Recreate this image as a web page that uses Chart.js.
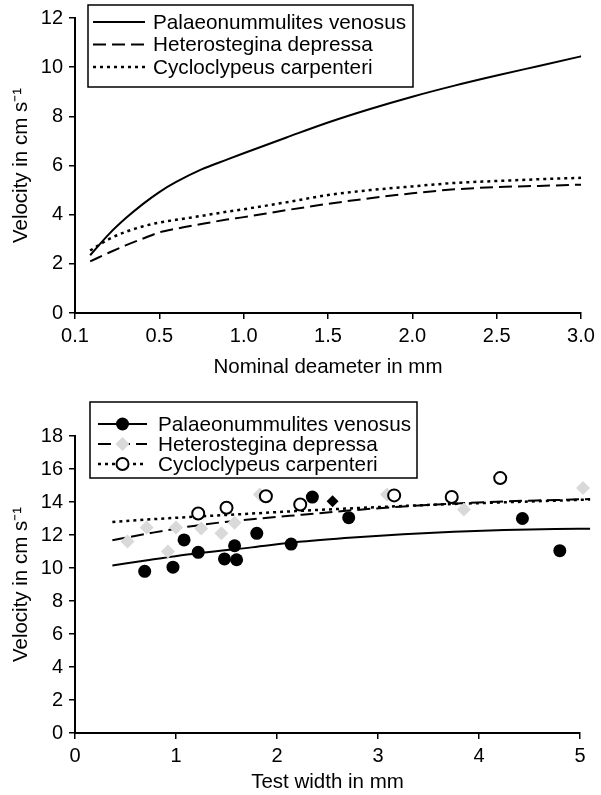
<!DOCTYPE html>
<html>
<head>
<meta charset="utf-8">
<script src="https://cdn.jsdelivr.net/npm/chart.js@4/dist/chart.umd.min.js"></script>
<style>
  html, body { margin: 0; padding: 0; background: #fff; }
  #wrap { position: relative; width: 601px; height: 795px; }
  #topBox { position: absolute; left: 0; top: 0; width: 601px; height: 385px; }
  #bottomBox { position: absolute; left: 0; top: 390px; width: 601px; height: 405px; }
</style>
</head>
<body>
<div id="wrap">
  <div id="topBox"><canvas id="topChart"></canvas></div>
  <div id="bottomBox"><canvas id="bottomChart"></canvas></div>
</div>
<script>
// Top panel: settling velocity vs nominal diameter
const speciesNames = ['Palaeonummulites venosus', 'Heterostegina depressa', 'Cycloclypeus carpenteri'];
const diameterMm = [0.09, 0.2, 0.3, 0.4, 0.5, 0.6, 0.75, 0.9, 1.0, 1.25, 1.5, 1.75, 2.0, 2.25, 2.5, 2.75, 3.0];
const palaeoTop = [2.35, 3.2, 3.85, 4.42, 4.92, 5.33, 5.84, 6.24, 6.5, 7.13, 7.75, 8.3, 8.8, 9.25, 9.66, 10.05, 10.44];
const heteroTop = [2.1, 2.45, 2.75, 3.02, 3.28, 3.43, 3.62, 3.8, 3.9, 4.18, 4.44, 4.67, 4.87, 5.03, 5.12, 5.17, 5.22];
const cycloTop = [2.54, 3.0, 3.3, 3.52, 3.68, 3.79, 3.95, 4.12, 4.22, 4.5, 4.8, 5.0, 5.15, 5.29, 5.37, 5.44, 5.5];
const topXTicks = ['0.1', '0.5', '1.0', '1.5', '2.0', '2.5', '3.0'];

// Bottom panel: velocity vs test width (measured points + fitted curves)
const palaeoWidth = [0.69, 0.97, 1.08, 1.22, 1.48, 1.58, 1.60, 1.80, 2.14, 2.35, 2.71, 4.43, 4.80];
const palaeoVel = [9.8, 10.05, 11.7, 10.95, 10.55, 11.35, 10.5, 12.1, 11.45, 14.3, 13.05, 13.0, 11.05];
const heteroWidth = [0.52, 0.71, 0.92, 1.0, 1.25, 1.45, 1.58, 1.83, 3.09, 3.85, 5.03];
const heteroVel = [11.6, 12.45, 11.0, 12.45, 12.4, 12.1, 12.75, 14.45, 14.45, 13.55, 14.85];
const heteroMarkedWidth = [2.55];
const heteroMarkedVel = [14.05];
const cycloWidth = [1.22, 1.50, 1.89, 2.23, 3.16, 3.73, 4.21];
const cycloVel = [13.3, 13.65, 14.35, 13.85, 14.4, 14.3, 15.45];
const fitWidth = [0.37, 0.75, 1.25, 1.75, 2.25, 2.75, 3.25, 3.75, 4.25, 4.75, 5.1];
const palaeoFit = [10.15, 10.5, 10.92, 11.25, 11.6, 11.85, 12.05, 12.2, 12.3, 12.36, 12.38];
const heteroFit = [11.68, 12.12, 12.62, 12.95, 13.23, 13.5, 13.73, 13.9, 14.04, 14.12, 14.18];
const cycloFit = [12.79, 12.95, 13.13, 13.3, 13.47, 13.62, 13.76, 13.88, 13.98, 14.08, 14.15];

const FONT = "'Liberation Sans', Arial, sans-serif";
const toXY = (xs, ys) => xs.map((x, i) => ({ x: x, y: ys[i] }));

const SOLID = [];
const DASHED = [13, 6];
const DOTTED = [3, 4];

// Legend drawn inside the plot with a box, like the original figure
const boxLegend = {
  id: 'boxLegend',
  afterDraw(chart, args, opts) {
    const ctx = chart.ctx;
    ctx.save();
    ctx.fillStyle = '#fff';
    ctx.fillRect(opts.x, opts.y, opts.w, opts.h);
    ctx.strokeStyle = '#000';
    ctx.lineWidth = 1.5;
    ctx.setLineDash([]);
    ctx.strokeRect(opts.x, opts.y, opts.w, opts.h);
    opts.items.forEach((item, i) => {
      const line = chart.data.datasets[item.line];
      const y = opts.y + opts.first + i * opts.gap;
      ctx.beginPath();
      ctx.setLineDash(line.borderDash || []);
      ctx.lineWidth = line.borderWidth;
      ctx.strokeStyle = '#000';
      ctx.moveTo(opts.x0, y);
      ctx.lineTo(opts.x1, y);
      ctx.stroke();
      ctx.setLineDash([]);
      if (item.marker != null) {
        const m = chart.data.datasets[item.marker];
        ctx.fillStyle = m.pointBackgroundColor;
        ctx.strokeStyle = m.pointBorderColor;
        ctx.lineWidth = m.pointBorderWidth;
        Chart.helpers.drawPoint(ctx, {
          pointStyle: m.pointStyle, radius: m.pointRadius, rotation: 0, borderWidth: m.pointBorderWidth
        }, (opts.x0 + opts.x1) / 2, y);
      }
      ctx.fillStyle = '#000';
      ctx.font = opts.fontSize + 'px ' + FONT;
      ctx.textBaseline = 'middle';
      ctx.textAlign = 'left';
      ctx.fillText(line.label, opts.tx, y + 1);
    });
    ctx.restore();
  }
};

function axisX(min, max, step, height, tickCb, titleText, titlePad) {
  return {
    type: 'linear', min: min, max: max,
    afterFit: s => { s.height = height; },
    border: { display: true, color: '#000', width: 2 },
    grid: { display: true, drawOnChartArea: false, drawTicks: true, tickLength: 6, color: '#000', lineWidth: 1.5 },
    ticks: { stepSize: step, color: '#000', padding: 5, maxRotation: 0, font: { family: FONT, size: 20 }, callback: tickCb },
    title: { display: true, text: titleText, color: '#000', font: { family: FONT, size: 20.5 }, padding: titlePad }
  };
}

function axisY(min, max, step) {
  return {
    type: 'linear', min: min, max: max,
    afterFit: s => { s.width = 75; },
    border: { display: true, color: '#000', width: 2 },
    grid: { display: true, drawOnChartArea: false, drawTicks: true, tickLength: 6, color: '#000', lineWidth: 1.5 },
    ticks: { stepSize: step, color: '#000', padding: 6, font: { family: FONT, size: 20 } },
    title: { display: true, text: 'Velocity in cm s\u207B\u00B9', color: '#000', font: { family: FONT, size: 20.5 }, padding: { top: 9, bottom: 2 } }
  };
}

function curve(label, xs, ys, dash, width) {
  return {
    label: label, data: toXY(xs, ys), showLine: true, pointRadius: 0,
    borderColor: '#000', backgroundColor: '#000', borderWidth: width, borderDash: dash,
    cubicInterpolationMode: 'monotone', clip: false, order: 10
  };
}

function markers(label, xs, ys, style, radius, fill, stroke, bw, order) {
  return {
    label: label, data: toXY(xs, ys), showLine: false, pointStyle: style, pointRadius: radius,
    pointBackgroundColor: fill, pointBorderColor: stroke, pointBorderWidth: bw, clip: false, order: order
  };
}

new Chart(document.getElementById('topChart'), {
  type: 'scatter',
  data: {
    datasets: [
      curve(speciesNames[0], diameterMm, palaeoTop, SOLID, 2),
      curve(speciesNames[1], diameterMm, heteroTop, DASHED, 2),
      curve(speciesNames[2], diameterMm, cycloTop, DOTTED, 2.5)
    ]
  },
  options: {
    responsive: true, maintainAspectRatio: false, animation: false,
    layout: { padding: { left: 0, right: 20, top: 16, bottom: 0 } },
    plugins: {
      legend: { display: false }, tooltip: { enabled: false },
      boxLegend: { x: 88, y: 5, w: 325, h: 82, x0: 93, x1: 145, tx: 153, first: 17, gap: 22.5, fontSize: 20.7,
        items: [{ line: 0 }, { line: 1 }, { line: 2 }] }
    },
    scales: {
      x: axisX(0, 3, 0.5, 72, (v, i) => topXTicks[i], 'Nominal deameter in mm', { top: 4, bottom: 5 }),
      y: axisY(0, 12, 2)
    }
  },
  plugins: [boxLegend]
});

new Chart(document.getElementById('bottomChart'), {
  type: 'scatter',
  data: {
    datasets: [
      curve(speciesNames[0], fitWidth, palaeoFit, SOLID, 2),
      curve(speciesNames[1], fitWidth, heteroFit, DASHED, 2),
      curve(speciesNames[2], fitWidth, cycloFit, DOTTED, 2.5),
      markers(speciesNames[1], heteroWidth, heteroVel, 'rectRot', 7, '#d9d9d9', '#d9d9d9', 0, 6),
      markers(speciesNames[1], heteroMarkedWidth, heteroMarkedVel, 'rectRot', 6, '#000', '#000', 0, 5),
      markers(speciesNames[0], palaeoWidth, palaeoVel, 'circle', 6.5, '#000', '#000', 0, 4),
      markers(speciesNames[2], cycloWidth, cycloVel, 'circle', 6, '#fff', '#000', 2, 3)
    ]
  },
  options: {
    responsive: true, maintainAspectRatio: false, animation: false,
    layout: { padding: { left: 0, right: 21, top: 46, bottom: 0 } },
    plugins: {
      legend: { display: false }, tooltip: { enabled: false },
      boxLegend: { x: 90, y: 12, w: 327, h: 76, x0: 98, x1: 147, tx: 158, first: 22, gap: 20, fontSize: 20.7,
        items: [{ line: 0, marker: 5 }, { line: 1, marker: 3 }, { line: 2, marker: 6 }] }
    },
    scales: {
      x: axisX(0, 5, 1, 62, v => v, 'Test width in mm', { top: 4, bottom: 0 }),
      y: axisY(0, 18, 2)
    }
  },
  plugins: [boxLegend]
});
</script>
</body>
</html>
